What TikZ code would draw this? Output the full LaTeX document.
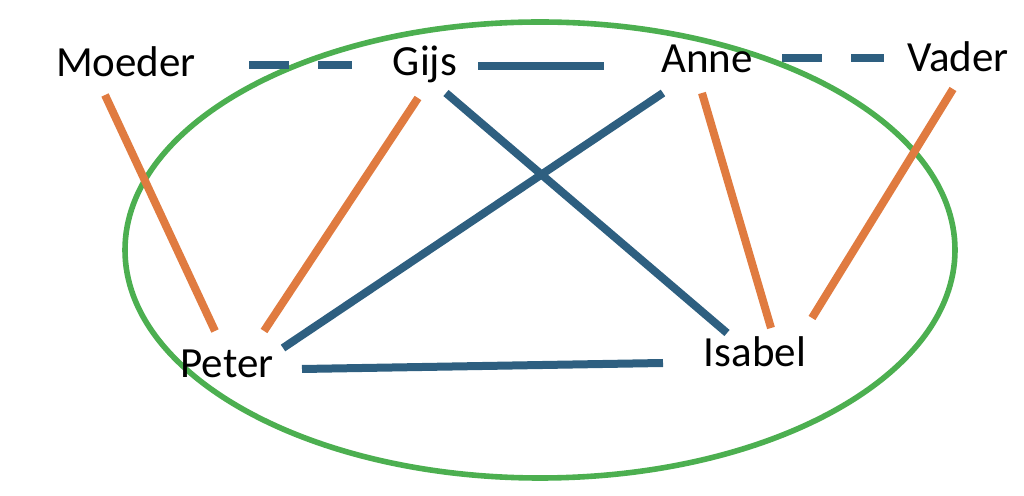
\documentclass[tikz,border=0pt]{standalone}
\usepackage{fontspec}
\setmainfont{Carlito}
\usepackage{tikz}
\definecolor{tieblue}{RGB}{46,95,128}
\definecolor{tieorange}{RGB}{224,123,64}
\definecolor{ringgreen}{RGB}{76,175,80}
\tikzset{
  % --- persons ----------------------------------------------------------------
  person/.style={anchor=base,inner sep=0pt,text=black,
                 font=\fontsize{21.5}{25}\selectfont},
  % --- relations --------------------------------------------------------------
  sib/.style={tieblue,line width=4pt},                       % brother / sister
  sibdash/.style={sib,dash pattern=on 20pt off 14.5pt},      % partner
  par/.style={tieorange,line width=4pt},                     % parent of
  ring/.style={ringgreen,line width=2.8pt},
}
\begin{document}
\begin{tikzpicture}[x=0.5pt, y=-0.5pt]
  \useasboundingbox (0,0) rectangle (1024,496);
  % --- the household ---------------------------------------------------------
  \draw[ring] (540,250) ellipse [x radius=207.5pt, y radius=114pt];
  % --- the persons -----------------------------------------------------------
  \node[person] (moeder) at (126,77)  {Moeder};
  \node[person] (gijs)   at (425,76)  {Gijs};
  \node[person] (anne)   at (707,73)  {Anne};
  \node[person] (vader)  at (958,72)  {Vader};
  \node[person] (peter)  at (227,378) {Peter};
  \node[person] (isabel) at (755,367) {Isabel};
  % --- blue ties ---------------------------------------------------------------
  \draw[sibdash] ([shift={(123,-12)}]moeder.base) -- ([shift={(-73,-11)}]gijs.base);
  \draw[sib]     ([shift={(53,-10)}]gijs.base)    -- ([shift={(-103,-7)}]anne.base);
  \draw[sibdash] ([shift={(75,-15)}]anne.base)    -- ([shift={(-74,-14)}]vader.base);
  \draw[sib]     ([shift={(21,17)}]gijs.base)     -- ([shift={(-28,-34)}]isabel.base);
  \draw[sib]     ([shift={(-44,20)}]anne.base)    -- ([shift={(56,-30)}]peter.base);
  \draw[sib]     ([shift={(75,-9)}]peter.base)    -- ([shift={(-92,-4)}]isabel.base);
  % --- orange ties -------------------------------------------------------------
  \draw[par] ([shift={(-21,18)}]moeder.base) -- ([shift={(-12,-47)}]peter.base);
  \draw[par] ([shift={(-7,22)}]gijs.base)    -- ([shift={(37,-47)}]peter.base);
  \draw[par] ([shift={(-5,20)}]anne.base)    -- ([shift={(16,-39)}]isabel.base);
  \draw[par] ([shift={(-5,17)}]vader.base)   -- ([shift={(57,-49)}]isabel.base);
\end{tikzpicture}
\end{document}
